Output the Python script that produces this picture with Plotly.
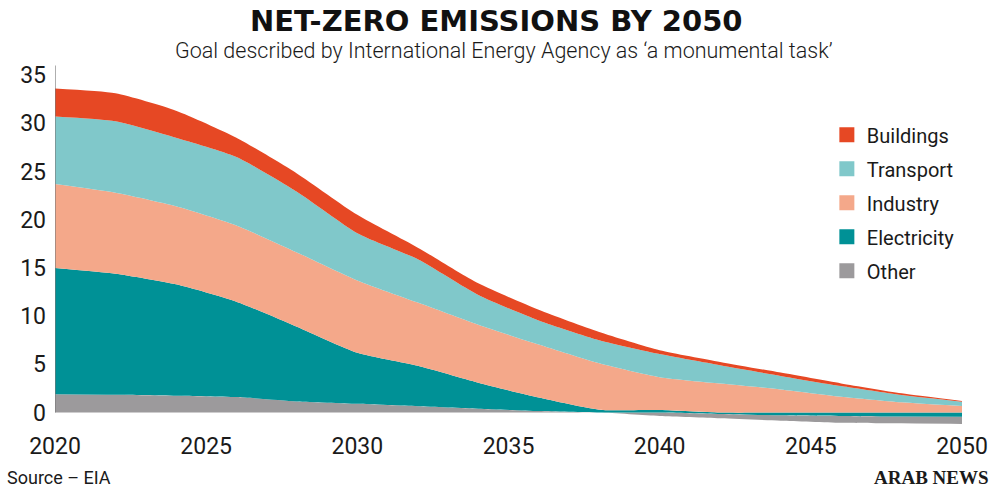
import plotly.graph_objects as go

# Emissions by sector (Gt CO2)
years = [2020, 2022, 2024, 2026, 2028, 2030, 2032, 2034, 2036, 2038,
         2040, 2042, 2044, 2046, 2048, 2050]
other = [1.9, 1.85, 1.75, 1.6, 1.15, 0.9, 0.65, 0.4, 0.15, 0.0,
         -0.36, -0.45, -0.56, -0.7, -0.7, -0.75]
electricity = [13.1, 12.55, 11.55, 9.9, 7.75, 5.3, 4.2, 2.7, 1.4, 0.3,
               0.26, -0.15, -0.29, -0.36, -0.42, -0.43]
industry = [8.7, 8.4, 8.1, 7.9, 7.7, 7.5, 6.55, 6.0, 5.5, 4.8,
            3.4, 3.0, 2.4, 1.64, 1.06, 0.67]
transport = [7.0, 7.4, 7.1, 7.1, 6.3, 4.9, 4.5, 3.1, 2.5, 2.4,
             2.4, 1.9, 1.4, 1.1, 0.75, 0.45]
buildings = [2.9, 2.9, 2.8, 2.0, 1.9, 1.9, 1.2, 1.2, 1.1, 0.85,
             0.4, 0.35, 0.34, 0.28, 0.18, 0.07]

y_ticks = [0, 5, 10, 15, 20, 25, 30, 35]
x_ticks = [2020, 2025, 2030, 2035, 2040, 2045, 2050]

colors = {
    "Buildings": "#E64824",
    "Transport": "#80C8CA",
    "Industry": "#F4A88A",
    "Electricity": "#009196",
    "Other": "#9C9A9C",
}

# stack starts at the sum of the negative sectors, layers drawn by magnitude
base = [min(o, 0) + min(e, 0) for o, e in zip(other, electricity)]

fig = go.Figure()

fig.add_trace(go.Scatter(
    x=years, y=base, stackgroup="em", mode="lines",
    line=dict(width=0, shape="spline", smoothing=0.6), fillcolor="rgba(0,0,0,0)",
    showlegend=False, hoverinfo="skip"
))

layers = [("Other", other), ("Electricity", electricity), ("Industry", industry),
          ("Transport", transport), ("Buildings", buildings)]
for name, vals in layers:
    fig.add_trace(go.Scatter(
        x=years, y=[abs(v) for v in vals], stackgroup="em", mode="lines",
        line=dict(width=0, color=colors[name], shape="spline", smoothing=0.6),
        fillcolor=colors[name], name=name, showlegend=False
    ))

# square legend swatches
for name in ["Buildings", "Transport", "Industry", "Electricity", "Other"]:
    fig.add_trace(go.Scatter(
        x=[None], y=[None], mode="markers", name=name, legendgroup=name,
        marker=dict(symbol="square", size=15, color=colors[name])
    ))

fig.update_layout(
    width=1000, height=498,
    margin=dict(l=55, r=33, t=62, b=68),
    paper_bgcolor="white", plot_bgcolor="white",
    font=dict(family="Roboto", color="#1a1a1a"),
    showlegend=True,
    legend=dict(
        x=0.851, y=0.855, xanchor="left", yanchor="top",
        traceorder="grouped", tracegroupgap=5,
        font=dict(size=20, color="#1a1a1a"),
        bgcolor="rgba(0,0,0,0)"
    ),
    xaxis=dict(
        range=[2020, 2050], tickvals=x_ticks, showgrid=False, zeroline=False,
        showline=False, ticks="", tickfont=dict(size=23)
    ),
    yaxis=dict(
        range=[-1.81, 36.35], tickvals=y_ticks, showgrid=False, zeroline=False,
        showline=False, ticks="", tickfont=dict(size=23), ticklabelstandoff=8
    ),
    shapes=[dict(type="line", xref="x", yref="y", x0=2020, x1=2020, y0=0, y1=36,
                 line=dict(color="#777777", width=1.2))],
    annotations=[
        dict(text="<b>NET-ZERO EMISSIONS BY 2050</b>", xref="paper", yref="paper",
             x=0.487, y=1.112, xanchor="center", yanchor="middle", showarrow=False,
             font=dict(size=29, color="#111111", family="DejaVu Sans")),
        dict(text="Goal described by International Energy Agency as \u2018a monumental task\u2019",
             xref="paper", yref="paper", x=0.495, y=1.032, xanchor="center",
             yanchor="middle", showarrow=False,
             font=dict(size=21.5, color="#1a1a1a", family="Roboto", weight=300)),
        dict(text="Source \u2013 EIA", xref="paper", yref="paper", x=-0.0548, y=-0.13,
             xanchor="left", yanchor="middle", showarrow=False,
             font=dict(size=18, color="#1a1a1a")),
        dict(text="<b>ARAB NEWS</b>", xref="paper", yref="paper", x=1.032, y=-0.13,
             xanchor="right", yanchor="middle", showarrow=False,
             font=dict(size=19, color="#1a1a1a", family="Liberation Serif")),
    ],
)

# page body has a default 8px margin; drop it so the figure sits at the corner
fig.write_html("out.html", config={"displayModeBar": False},
               post_script="document.body.style.margin='0px';")
